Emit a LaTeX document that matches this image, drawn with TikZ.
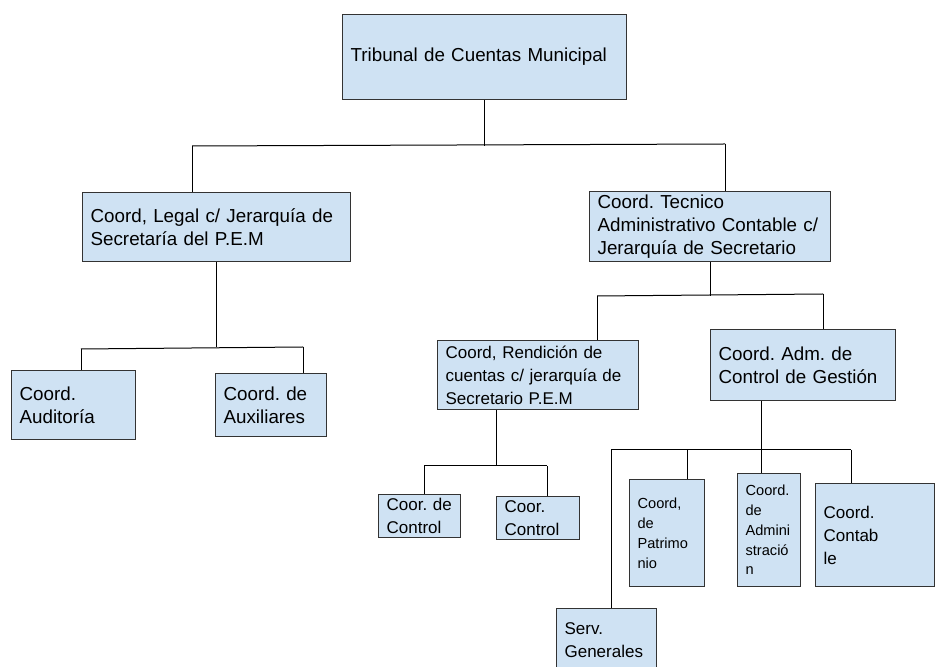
\documentclass[tikz,border=0pt]{standalone}
\usepackage{fontspec}
\setmainfont{Liberation Sans}
\definecolor{boxblue}{HTML}{CFE2F3}
\tikzset{
  orgbox/.style={draw=black!80, fill=boxblue, line width=0.6pt, anchor=north west,
    inner xsep=4pt, inner ysep=0pt, align=left},
  bigtxt/.style={font=\fontsize{9.4}{11.3}\selectfont\frenchspacing},
  midtxt/.style={font=\fontsize{8.5}{11.5}\selectfont\frenchspacing},
  smalltxt/.style={font=\fontsize{7.3}{9.9}\selectfont\frenchspacing},
  link/.style={draw=black, line width=0.5pt},
}
\begin{document}
\begin{tikzpicture}[x=0.5pt, y=-0.5pt]
    \fill[white] (0,0) rectangle (936,667);
    \useasboundingbox (0,0) rectangle (936,667);

    % boxes
    \node[orgbox, bigtxt, text width=134pt, minimum height=42.5pt] (tribunal) at (342,14) {Tribunal de Cuentas Municipal};
    \node[orgbox, bigtxt, text width=126pt, minimum height=34.5pt] (legal) at (82,192) {Coord, Legal c/ Jerarquía de\\Secretaría del P.E.M};
    \node[orgbox, bigtxt, text width=112.5pt, minimum height=35pt] (tecnico) at (589,191) {Coord. Tecnico\\Administrativo Contable c/\\Jerarquía de Secretario};
    \node[orgbox, bigtxt, text width=54pt, minimum height=34.5pt] (auditoria) at (11,370) {Coord.\\Auditoría};
    \node[orgbox, bigtxt, text width=47.5pt, minimum height=31.5pt] (auxiliares) at (215,373) {Coord.~de\\Auxiliares};
    \node[orgbox, midtxt, text width=92.5pt, minimum height=34.5pt] (rendicion) at (437,340) {Coord, Rendición de\\cuentas c/ jerarquía~de\\Secretario P.E.M};
    \node[orgbox, bigtxt, text width=84.5pt, minimum height=35.5pt] (admctl) at (710,329) {Coord. Adm. de\\Control de Gestión};
    \node[orgbox, midtxt, text width=33pt, minimum height=21.5pt] (coorde) at (378,494) {Coor.~de\\Control};
    \node[orgbox, midtxt, text width=33.5pt, minimum height=21.5pt] (coorctl) at (496,496) {Coor.\\Control};
    \node[orgbox, smalltxt, text width=29.5pt, minimum height=53.5pt] (patrimonio) at (629,479) {Coord,\\de\\Patrimo\\nio};
    \node[orgbox, smalltxt, text width=23.5pt, minimum height=56.5pt] (admin) at (737,473) {Coord.\\de\\Admini\\stració\\n};
    \node[orgbox, midtxt, text width=51.5pt, minimum height=51.5pt] (contable) at (815,483) {Coord.\\Contab\\le};
    \node[orgbox, midtxt, text width=42pt, minimum height=32pt] (serv) at (556,608) {Serv.\\Generales};

    % level 1
    \coordinate (b1l) at (192,146);
    \coordinate (b1r) at (725,144);
    \draw[link] (tribunal.south) -- (tribunal.south |- b1l);
    \draw[link] (b1l) -- (b1r);
    \draw[link] (b1l) -- (legal.north -| b1l);
    \draw[link] (b1r) -- (tecnico.north -| b1r);

    % under legal
    \coordinate (b2l) at (81,349);
    \coordinate (b2r) at (303,347);
    \draw[link] (legal.south) -- (legal.south |- b2r);
    \draw[link] (b2l) -- (b2r);
    \draw[link] (b2l) -- (auditoria.north -| b2l);
    \draw[link] (b2r) -- (auxiliares.north -| b2r);

    % under tecnico
    \coordinate (b3l) at (597,296);
    \coordinate (b3r) at (823,294);
    \draw[link] (tecnico.south) -- (tecnico.south |- b3l);
    \draw[link] (b3l) -- (b3r);
    \draw[link] (b3l) -- (rendicion.north -| b3l);
    \draw[link] (b3r) -- (admctl.north -| b3r);

    % under rendicion
    \coordinate (b4l) at (424,466);
    \coordinate (b4m) at (496,466);
    \coordinate (b4r) at (547,466);
    \draw[link] (rendicion.south -| b4m) -- (b4m);
    \draw[link] (b4l) -- (b4r);
    \draw[link] (b4l) -- (coorde.north -| b4l);
    \draw[link] (b4r) -- (coorctl.north -| b4r);

    % under admctl
    \coordinate (b5l) at (611,450);
    \coordinate (b5p) at (687,450);
    \coordinate (b5m) at (761,450);
    \coordinate (b5r) at (851,450);
    \draw[link] (admctl.south -| b5m) -- (admin.north -| b5m);
    \draw[link] (b5l) -- (b5r);
    \draw[link] (b5l) -- (serv.north -| b5l);
    \draw[link] (b5p) -- (patrimonio.north -| b5p);
    \draw[link] (b5r) -- (contable.north -| b5r);
\end{tikzpicture}
\end{document}
